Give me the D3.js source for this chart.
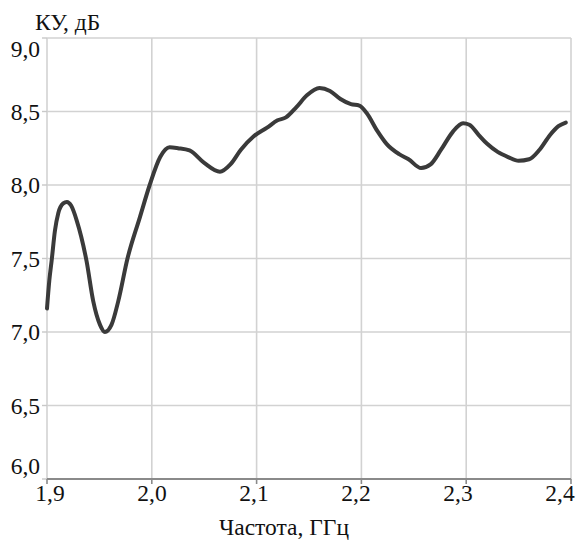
<!DOCTYPE html>
<html><head><meta charset="utf-8">
<script src="https://cdn.jsdelivr.net/npm/d3@7"></script>
</head>
<body style="margin:0;background:#fff"><svg id="c" width="576" height="540"></svg>
<script>
const freq = [1.900,1.9022,1.9045,1.9076,1.9108,1.9155,1.919,1.923,1.9283,1.9378,1.9441,1.9505,1.9552,1.9616,1.968,1.9768,1.9886,1.998,2.008,2.017,2.025,2.036,2.050,2.065,2.075,2.085,2.097,2.110,2.120,2.128,2.138,2.148,2.160,2.170,2.180,2.190,2.198,2.205,2.215,2.224,2.236,2.245,2.257,2.266,2.276,2.287,2.297,2.303,2.312,2.320,2.330,2.340,2.350,2.360,2.370,2.380,2.388,2.395];
const gain = [7.16,7.35,7.49,7.69,7.81,7.875,7.885,7.86,7.76,7.48,7.21,7.05,7.00,7.05,7.21,7.50,7.78,8.00,8.19,8.256,8.25,8.235,8.15,8.09,8.14,8.24,8.33,8.39,8.44,8.46,8.53,8.61,8.66,8.64,8.585,8.55,8.54,8.49,8.37,8.28,8.21,8.175,8.115,8.14,8.24,8.36,8.42,8.41,8.34,8.28,8.225,8.19,8.165,8.175,8.24,8.34,8.40,8.425];
const xTicks = [1.9,2.0,2.1,2.2,2.3,2.4];
const xTickLabels = ["1,9","2,0","2,1","2,2","2,3","2,4"];
const yTicks = [6.0,6.5,7.0,7.5,8.0,8.5,9.0];
const yTickLabels = ["6,0","6,5","7,0","7,5","8,0","8,5","9,0"];
const yTitle = "КУ, дБ";
const xTitle = "Частота, ГГц";

const FONT = "'Liberation Serif'";
const svg = d3.select("#c");
const x = d3.scaleLinear().domain([1.9,2.4]).range([47,571]);
const xl = d3.scaleLinear().domain([1.9,2.4]).range([50,560]);
const y = d3.scaleLinear().domain([6,9]).range([479,38]);
const FS = 23.5;

// grid
svg.append("g").selectAll("line").data(xTicks).join("line")
  .attr("x1",d=>x(d)).attr("x2",d=>x(d)).attr("y1",y(9)).attr("y2",y(6))
  .attr("stroke","#d2d2d2").attr("stroke-width",1.6);
svg.append("g").selectAll("line").data(yTicks.filter(d=>d>6)).join("line")
  .attr("x1",x(1.9)).attr("x2",x(2.4)).attr("y1",d=>y(d)).attr("y2",d=>y(d))
  .attr("stroke","#d2d2d2").attr("stroke-width",1.6);
// left small ticks
svg.append("g").selectAll("line").data(yTicks).join("line")
  .attr("x1",x(1.9)-5).attr("x2",x(1.9)).attr("y1",d=>y(d)).attr("y2",d=>y(d))
  .attr("stroke","#c8c8c8").attr("stroke-width",1.4);
// bottom axis
svg.append("line").attr("x1",x(1.9)).attr("x2",x(2.4)).attr("y1",y(6)).attr("y2",y(6))
  .attr("stroke","#8a8a8a").attr("stroke-width",2.2);
svg.append("g").selectAll("line").data(xTicks).join("line")
  .attr("x1",d=>x(d)).attr("x2",d=>x(d)).attr("y1",y(6)).attr("y2",y(6)+5)
  .attr("stroke","#8a8a8a").attr("stroke-width",1.6);

// y labels
svg.append("g").selectAll("text").data(yTicks).join("text")
  .style("font-family", FONT).style("font-size", FS+"px")
  .attr("x",40).attr("text-anchor","end").attr("fill","#111")
  .attr("y",(d)=>{ if(d===9) return y(d)+19; if(d===6) return y(d)-5; return y(d)+8; })
  .text((d,i)=>yTickLabels[i]);
// x labels
svg.append("g").selectAll("text").data(xTicks).join("text")
  .style("font-family", FONT).style("font-size", FS+"px")
  .attr("x",d=>xl(d)).attr("y",501).attr("text-anchor","middle").attr("fill","#111")
  .text((d,i)=>xTickLabels[i]);
// titles
svg.append("text").style("font-family", FONT).style("font-size", FS+"px")
  .attr("x",35).attr("y",30).attr("fill","#111").text(yTitle);
svg.append("text").style("font-family", FONT).style("font-size", FS+"px")
  .attr("x",284).attr("y",535).attr("text-anchor","middle").attr("fill","#111").text(xTitle);

// curve
const line = d3.line().x((d,i)=>x(freq[i])).y(d=>y(d)).curve(d3.curveMonotoneX);
svg.append("path").datum(gain).attr("d",line).attr("fill","none")
  .attr("stroke","#3a3a3a").attr("stroke-width",4).attr("stroke-linejoin","round").attr("stroke-linecap","round");
</script></body></html>
